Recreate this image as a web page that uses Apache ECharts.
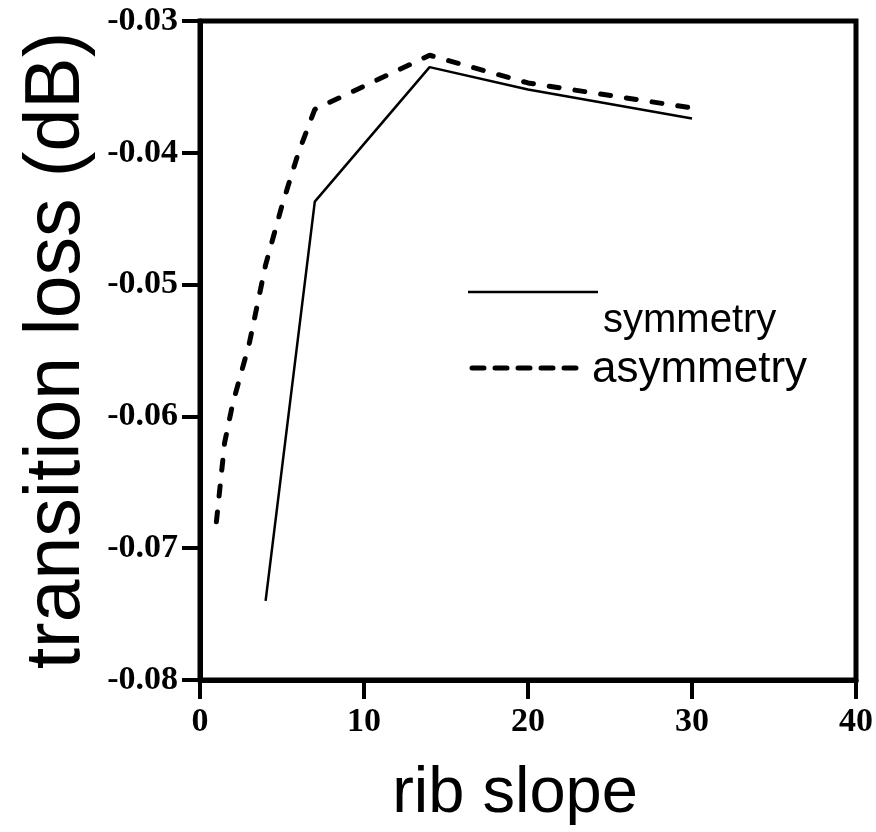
<!DOCTYPE html>
<html>
<head>
<meta charset="utf-8">
<script src="https://cdn.jsdelivr.net/npm/echarts@6/dist/echarts.min.js"></script>
<style>
  html, body { margin: 0; padding: 0; background: #ffffff; }
  #chart { width: 876px; height: 832px; }
</style>
</head>
<body>
<div id="chart"></div>
<script>
// Transition loss versus rib slope for symmetric and asymmetric ribs
const symmetryX = [4, 7, 14, 20, 30];
const symmetryY = [-0.074, -0.0437, -0.0335, -0.0352, -0.0374];

const asymmetryX = [1, 1.5, 2, 3, 4, 5, 6, 7, 14, 20, 30];
const asymmetryY = [-0.068, -0.062, -0.059, -0.0545, -0.0485, -0.044, -0.040, -0.0367, -0.0326, -0.0347, -0.0366];

const xTicks = [0, 10, 20, 30, 40];
const yTicks = [-0.08, -0.07, -0.06, -0.05, -0.04, -0.03];

const seriesNames = ['symmetry', 'asymmetry'];
const xTitle = 'rib slope';
const yTitle = 'transition loss (dB)';

const pairs = (xs, ys) => xs.map((x, i) => [x, ys[i]]);

const tickFont = {
  fontFamily: 'Liberation Serif',
  fontWeight: 'bold',
  fontSize: 34,
  color: '#000'
};

const solidStyle = { color: '#000', width: 2.5, type: 'solid' };
const dashedStyle = { color: '#000', width: 5, type: [10, 16], cap: 'round' };

const chart = echarts.init(document.getElementById('chart'), null, { renderer: 'canvas' });

// Key: a line sample next to each series name
const keyItems = [
  { x1: 468, x2: 598, y: 292, textX: 603, textY: 321, size: 40,
    style: { stroke: '#000', lineWidth: 2.5 } },
  { x1: 472, x2: 583, y: 368, textX: 592, textY: 370, size: 44,
    style: { stroke: '#000', lineWidth: 5, lineDash: [12, 11], lineCap: 'round' } }
];

const keyGraphics = [];
keyItems.forEach((k, i) => {
  keyGraphics.push({
    type: 'line', z: 10,
    shape: { x1: k.x1, y1: k.y, x2: k.x2, y2: k.y },
    style: k.style
  });
  keyGraphics.push({
    type: 'text', z: 10, x: k.textX, y: k.textY,
    style: {
      text: seriesNames[i], fill: '#000',
      font: k.size + 'px "Liberation Sans"',
      align: 'left', verticalAlign: 'middle'
    }
  });
});

chart.setOption({
  backgroundColor: '#ffffff',
  animation: false,
  grid: {
    left: 200, right: 15, top: 21, bottom: 149,
    show: true, borderColor: '#000', borderWidth: 5, backgroundColor: 'transparent'
  },
  graphic: keyGraphics,
  xAxis: {
    type: 'value', min: xTicks[0], max: xTicks[xTicks.length - 1], interval: 10,
    name: xTitle, nameLocation: 'middle', nameGap: 82,
    nameTextStyle: { fontFamily: 'Liberation Sans', fontSize: 65, color: '#000', padding: [0, 26, 0, 0] },
    axisLine: { lineStyle: { color: '#000', width: 5 } },
    axisTick: { length: 19, lineStyle: { color: '#000', width: 4 } },
    axisLabel: { ...tickFont, margin: 25 },
    splitLine: { show: false }
  },
  yAxis: {
    type: 'value', min: yTicks[0], max: yTicks[yTicks.length - 1], interval: 0.01,
    name: yTitle, nameLocation: 'middle', nameGap: 101, nameRotate: 90,
    nameTextStyle: { fontFamily: 'Liberation Sans', fontSize: 77, color: '#000' },
    axisLine: { lineStyle: { color: '#000', width: 5 } },
    axisTick: { length: 18, lineStyle: { color: '#000', width: 4 } },
    axisLabel: { ...tickFont, margin: 22, formatter: v => v.toFixed(2) },
    splitLine: { show: false }
  },
  series: [
    {
      name: seriesNames[0], type: 'line', data: pairs(symmetryX, symmetryY),
      symbol: 'none', showSymbol: false,
      lineStyle: solidStyle, itemStyle: { color: '#000' }
    },
    {
      name: seriesNames[1], type: 'line', data: pairs(asymmetryX, asymmetryY),
      symbol: 'none', showSymbol: false,
      lineStyle: dashedStyle, itemStyle: { color: '#000' }
    }
  ]
});
</script>
</body>
</html>
